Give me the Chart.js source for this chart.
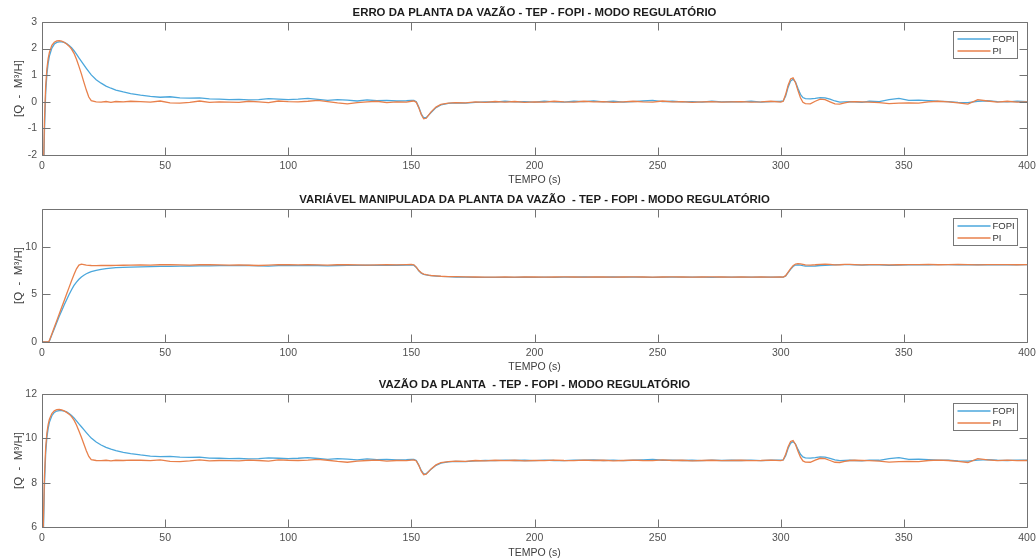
<!DOCTYPE html>
<html>
<head>
<meta charset="utf-8">
<script src="https://cdn.jsdelivr.net/npm/chart.js@4.4.1/dist/chart.umd.min.js"></script>
<style>
  html, body { margin: 0; padding: 0; background: #fff; }
  body { width: 1036px; height: 560px; position: relative; overflow: hidden; }
  canvas { position: absolute; left: 0; }
</style>
</head>
<body>
<canvas id="painelErro" width="1036" height="187" style="top:0px;width:1036px;height:187px"></canvas>
<canvas id="painelMV" width="1036" height="187" style="top:187px;width:1036px;height:187px"></canvas>
<canvas id="painelVazao" width="1036" height="188" style="top:372px;width:1036px;height:188px"></canvas>
<script>
// Instantes de amostragem (s)
const tempo = [
  0, 0.5, 1, 1.5, 2, 2.5, 3, 4, 5, 6,
  7, 8, 9, 10, 11, 12, 13, 14, 15, 16,
  17, 18, 19, 20, 22, 24, 26, 28, 30, 33,
  36, 40, 44, 48, 52, 56, 60, 64, 68, 72,
  76, 80, 84, 88, 92, 96, 100, 104, 108, 112,
  116, 120, 124, 128, 132, 136, 140, 144, 148, 150,
  151, 152, 153, 154, 155, 156, 157, 158, 160, 162,
  165, 168, 172, 176, 180, 184, 188, 192, 196, 200,
  204, 208, 212, 216, 220, 224, 228, 232, 236, 240,
  244, 248, 252, 256, 260, 264, 268, 272, 276, 280,
  284, 288, 292, 296, 300, 301, 302, 303, 304, 305,
  306, 307, 308, 309, 310, 312, 314, 316, 318, 320,
  322, 324, 326, 328, 330, 333, 336, 340, 344, 348,
  352, 356, 360, 364, 368, 372, 376, 380, 384, 388,
  392, 396, 400
];

// Erro da planta
const erroFOPI = [
  -9, -3.6, -1.1, 0.35, 1.05, 1.45, 1.72, 2.02, 2.17, 2.23,
  2.25, 2.25, 2.23, 2.19, 2.12, 2.03, 1.92, 1.79, 1.65, 1.52,
  1.39, 1.26, 1.13, 1.01, 0.83, 0.70, 0.59, 0.51, 0.44, 0.37,
  0.31, 0.25, 0.20, 0.17, 0.19, 0.15, 0.14, 0.15, 0.11, 0.10,
  0.08, 0.09, 0.07, 0.08, 0.12, 0.10, 0.08, 0.10, 0.13, 0.09,
  0.05, 0.08, 0.06, 0.03, 0.07, 0.04, 0.05, 0.03, 0.04, 0.05,
  0.05, 0.00, -0.20, -0.45, -0.60, -0.60, -0.50, -0.40, -0.22, -0.12,
  -0.06, -0.04, -0.05, -0.02, 0.00, -0.01, 0.02, 0.00, 0.01, -0.01,
  0.02, 0.00, -0.01, 0.02, 0.01, 0.03, 0.00, 0.02, -0.01, 0.01,
  0.03, 0.05, 0.01, 0.02, 0.00, 0.01, -0.01, 0.02, 0.00, 0.01,
  0.00, 0.02, -0.01, 0.01, 0.02, 0.03, 0.22, 0.55, 0.78, 0.85,
  0.74, 0.50, 0.28, 0.16, 0.12, 0.11, 0.13, 0.16, 0.15, 0.10,
  0.03, -0.01, 0.00, 0.01, 0.00, -0.02, 0.02, 0.01, 0.08, 0.13,
  0.05, 0.06, 0.04, 0.02, 0.01, -0.02, -0.03, 0.02, 0.04, 0.01,
  0.00, 0.02, 0.01
];
const erroPI = [
  -9, -3.1, -0.7, 0.6, 1.25, 1.62, 1.86, 2.12, 2.24, 2.29,
  2.30, 2.28, 2.24, 2.17, 2.09, 1.98, 1.82, 1.60, 1.33, 1.05,
  0.74, 0.44, 0.18, 0.04, 0.00, -0.01, 0.01, -0.02, 0.01, 0.00,
  0.02, 0.01, -0.01, 0.03, -0.04, -0.05, -0.02, 0.03, -0.02, 0.00,
  -0.01, -0.02, 0.02, 0.00, -0.03, 0.03, 0.01, 0.00, 0.02, 0.05,
  0.01, -0.04, -0.08, -0.03, 0.00, 0.02, -0.03, 0.00, -0.01, 0.02,
  0.03, -0.02, -0.22, -0.48, -0.64, -0.62, -0.50, -0.38, -0.20, -0.10,
  -0.05, -0.03, -0.04, 0.00, -0.02, 0.01, -0.01, 0.01, -0.02, 0.00,
  -0.01, 0.02, 0.00, -0.01, 0.02, 0.00, 0.01, -0.02, 0.00, 0.02,
  0.00, -0.01, 0.03, 0.00, 0.01, -0.02, 0.00, 0.01, -0.01, 0.00,
  0.01, -0.01, 0.00, 0.02, -0.01, 0.02, 0.28, 0.62, 0.86, 0.90,
  0.72, 0.42, 0.15, -0.02, -0.07, -0.08, 0.02, 0.10, 0.08, 0.00,
  -0.08, -0.09, -0.04, 0.00, 0.01, 0.00, -0.01, -0.03, -0.07, -0.05,
  -0.04, -0.05, 0.00, 0.02, 0.00, -0.04, -0.09, 0.08, 0.03, -0.01,
  0.02, -0.01, 0.00
];

// Variável manipulada
const mvFOPI = [
  0, 0, 0, 0, 0, 0, 0.10, 0.75, 1.40, 2.05,
  2.70, 3.30, 3.90, 4.45, 5.00, 5.50, 5.95, 6.30, 6.60, 6.85,
  7.03, 7.18, 7.30, 7.40, 7.55, 7.65, 7.73, 7.78, 7.82, 7.86,
  7.88, 7.91, 7.93, 7.95, 7.96, 7.98, 8.00, 8.01, 8.02, 8.03,
  8.03, 8.04, 8.05, 8.02, 7.98, 8.03, 8.05, 8.04, 8.06, 8.05,
  8.02, 8.05, 8.07, 8.06, 8.08, 8.06, 8.07, 8.08, 8.10, 8.12,
  8.08, 7.85, 7.50, 7.25, 7.12, 7.06, 7.02, 6.98, 6.94, 6.90,
  6.87, 6.84, 6.82, 6.80, 6.80, 6.80, 6.81, 6.80, 6.82, 6.81,
  6.82, 6.81, 6.83, 6.82, 6.84, 6.83, 6.82, 6.84, 6.83, 6.82,
  6.83, 6.81, 6.82, 6.83, 6.82, 6.83, 6.82, 6.81, 6.82, 6.83,
  6.82, 6.83, 6.82, 6.83, 6.82, 6.82, 6.95, 7.30, 7.65, 7.95,
  8.10, 8.12, 8.08, 8.03, 8.00, 7.98, 8.00, 8.05, 8.08, 8.10,
  8.12, 8.14, 8.15, 8.14, 8.12, 8.10, 8.13, 8.12, 8.06, 8.09,
  8.12, 8.13, 8.12, 8.14, 8.15, 8.12, 8.11, 8.14, 8.13, 8.12,
  8.13, 8.12, 8.14
];
const mvPI = [
  0, 0, 0, 0, 0, 0, 0.15, 0.85, 1.55, 2.25,
  2.95, 3.65, 4.35, 5.05, 5.75, 6.45, 7.10, 7.70, 8.10, 8.20,
  8.15, 8.10, 8.07, 8.05, 8.04, 8.05, 8.06, 8.05, 8.07, 8.08,
  8.10, 8.12, 8.10, 8.13, 8.15, 8.12, 8.10, 8.13, 8.14, 8.12,
  8.10, 8.12, 8.08, 8.05, 8.10, 8.14, 8.13, 8.12, 8.14, 8.12,
  8.10, 8.13, 8.14, 8.12, 8.10, 8.12, 8.13, 8.11, 8.14, 8.16,
  8.12, 7.88, 7.52, 7.28, 7.15, 7.08, 7.03, 7.00, 6.96, 6.92,
  6.89, 6.87, 6.85, 6.84, 6.83, 6.83, 6.84, 6.83, 6.84, 6.84,
  6.83, 6.84, 6.85, 6.84, 6.83, 6.84, 6.85, 6.83, 6.84, 6.85,
  6.84, 6.83, 6.84, 6.85, 6.84, 6.83, 6.84, 6.85, 6.84, 6.83,
  6.84, 6.83, 6.84, 6.83, 6.84, 6.83, 6.98, 7.35, 7.72, 8.02,
  8.20, 8.25, 8.22, 8.18, 8.12, 8.10, 8.13, 8.18, 8.20, 8.16,
  8.12, 8.13, 8.16, 8.18, 8.15, 8.12, 8.14, 8.15, 8.12, 8.13,
  8.15, 8.14, 8.16, 8.13, 8.15, 8.17, 8.14, 8.12, 8.15, 8.14,
  8.15, 8.13, 8.15
];

// Vazão da planta
const vazaoFOPI = [
  0, 5.40, 7.90, 9.35, 10.05, 10.45, 10.72, 11.02, 11.17, 11.23,
  11.25, 11.25, 11.23, 11.19, 11.12, 11.03, 10.92, 10.79, 10.65, 10.52,
  10.39, 10.26, 10.13, 10.01, 9.83, 9.70, 9.59, 9.51, 9.44, 9.37,
  9.31, 9.25, 9.20, 9.17, 9.19, 9.15, 9.14, 9.15, 9.11, 9.10,
  9.08, 9.09, 9.07, 9.08, 9.12, 9.10, 9.08, 9.10, 9.13, 9.09,
  9.05, 9.08, 9.06, 9.03, 9.07, 9.04, 9.05, 9.03, 9.04, 9.05,
  9.05, 9.00, 8.80, 8.55, 8.40, 8.40, 8.50, 8.60, 8.78, 8.88,
  8.94, 8.96, 8.95, 8.98, 9.00, 8.99, 9.02, 9.00, 9.01, 8.99,
  9.02, 9.00, 8.99, 9.02, 9.01, 9.03, 9.00, 9.02, 8.99, 9.01,
  9.03, 9.05, 9.01, 9.02, 9.00, 9.01, 8.99, 9.02, 9.00, 9.01,
  9.00, 9.02, 8.99, 9.01, 9.02, 9.03, 9.22, 9.55, 9.78, 9.85,
  9.74, 9.50, 9.28, 9.16, 9.12, 9.11, 9.13, 9.16, 9.15, 9.10,
  9.03, 8.99, 9.00, 9.01, 9.00, 8.98, 9.02, 9.01, 9.08, 9.13,
  9.05, 9.06, 9.04, 9.02, 9.01, 8.98, 8.97, 9.02, 9.04, 9.01,
  9.00, 9.02, 9.01
];
const vazaoPI = [
  0, 5.90, 8.30, 9.60, 10.25, 10.62, 10.86, 11.12, 11.24, 11.29,
  11.30, 11.28, 11.24, 11.17, 11.09, 10.98, 10.82, 10.60, 10.33, 10.05,
  9.74, 9.44, 9.18, 9.04, 9.00, 8.99, 9.01, 8.98, 9.01, 9.00,
  9.02, 9.01, 8.99, 9.03, 8.96, 8.95, 8.98, 9.03, 8.98, 9.00,
  8.99, 8.98, 9.02, 9.00, 8.97, 9.03, 9.01, 9.00, 9.02, 9.05,
  9.01, 8.96, 8.92, 8.97, 9.00, 9.02, 8.97, 9.00, 8.99, 9.02,
  9.03, 8.98, 8.78, 8.52, 8.36, 8.38, 8.50, 8.62, 8.80, 8.90,
  8.95, 8.97, 8.96, 9.00, 8.98, 9.01, 8.99, 9.01, 8.98, 9.00,
  8.99, 9.02, 9.00, 8.99, 9.02, 9.00, 9.01, 8.98, 9.00, 9.02,
  9.00, 8.99, 9.03, 9.00, 9.01, 8.98, 9.00, 9.01, 8.99, 9.00,
  9.01, 8.99, 9.00, 9.02, 8.99, 9.02, 9.28, 9.62, 9.86, 9.90,
  9.72, 9.42, 9.15, 8.98, 8.93, 8.92, 9.02, 9.10, 9.08, 9.00,
  8.92, 8.91, 8.96, 9.00, 9.01, 9.00, 8.99, 8.97, 8.93, 8.95,
  8.96, 8.95, 9.00, 9.02, 9.00, 8.96, 8.91, 9.08, 9.03, 8.99,
  9.02, 8.99, 9.00
];

// Marcas dos eixos
const ticksTempo = [0, 50, 100, 150, 200, 250, 300, 350, 400];
const ticksErro = [-2, -1, 0, 1, 2, 3];
const ticksMV = [0, 5, 10];
const ticksVazao = [6, 8, 10, 12];

const rotulosSeries = ['FOPI', 'PI'];
const rotuloX = 'TEMPO (s)';
const rotuloY = '[Q  -  M³/H]';

const COR_FOPI = '#4ba7dc';
const COR_PI = '#e8804b';
const COR_EIXO = '#737373';
const FONTE = '"Liberation Sans", Arial, Helvetica, sans-serif';

// Moldura em caixa com marcas internas (estilo MATLAB) e legenda no canto superior direito
const moldura = {
  id: 'moldura',
  afterDatasetsDraw(chart) {
    const { ctx, chartArea: a, scales: { x, y } } = chart;
    const L = Math.round(a.left) + 0.5, R = Math.round(a.right) + 0.5;
    const T = Math.round(a.top) + 0.5, B = Math.round(a.bottom) + 0.5;
    const tam = 8;
    ctx.save();
    ctx.strokeStyle = COR_EIXO;
    ctx.lineWidth = 1;
    ctx.beginPath();
    ctx.rect(L, T, R - L, B - T);
    x.ticks.forEach(t => {
      const px = Math.round(x.getPixelForValue(t.value)) + 0.5;
      ctx.moveTo(px, B); ctx.lineTo(px, B - tam);
      ctx.moveTo(px, T); ctx.lineTo(px, T + tam);
    });
    y.ticks.forEach(t => {
      const py = Math.round(y.getPixelForValue(t.value)) + 0.5;
      ctx.moveTo(L, py); ctx.lineTo(L + tam, py);
      ctx.moveTo(R, py); ctx.lineTo(R - tam, py);
    });
    ctx.stroke();

    // legenda
    const w = 64, h = 27;
    const bx = Math.round(a.right) - 10 - w + 0.5;
    const by = Math.round(a.top) + 9 + 0.5;
    ctx.fillStyle = '#fff';
    ctx.fillRect(bx, by, w, h);
    ctx.strokeStyle = '#777';
    ctx.lineWidth = 1;
    ctx.strokeRect(bx, by, w, h);
    ctx.font = '9.5px ' + FONTE;
    ctx.textBaseline = 'middle';
    ctx.textAlign = 'left';
    chart.data.datasets.forEach((ds, i) => {
      const ly = Math.round(by + 7 + i * 12.7);
      ctx.strokeStyle = ds.borderColor;
      ctx.lineWidth = 1.6;
      ctx.beginPath();
      ctx.moveTo(bx + 4, ly); ctx.lineTo(bx + 37, ly);
      ctx.stroke();
      ctx.fillStyle = '#333';
      ctx.fillText(ds.label, bx + 39, ly + 0.5);
    });
    ctx.restore();
  }
};

function pontos(serie) {
  return tempo.map((t, i) => ({ x: t, y: serie[i] }));
}

function painel(id, H, titulo, serieFOPI, seriePI, yMin, yMax, yTicks) {
  return new Chart(document.getElementById(id), {
    type: 'line',
    data: {
      datasets: [
        { label: rotulosSeries[0], data: pontos(serieFOPI), borderColor: COR_FOPI, borderWidth: 1.3,
          pointRadius: 0, tension: 0, order: 1, clip: 0, fill: false },
        { label: rotulosSeries[1], data: pontos(seriePI), borderColor: COR_PI, borderWidth: 1.3,
          pointRadius: 0, tension: 0, order: 0, clip: 0, fill: false }
      ]
    },
    options: {
      responsive: false,
      animation: false,
      events: [],
      devicePixelRatio: 1,
      layout: { padding: { left: 0, right: 0, top: 0, bottom: 0 } },
      plugins: {
        legend: { display: false },
        tooltip: { enabled: false },
        title: {
          display: true, text: titulo, fullSize: false, color: '#1c1c1c',
          font: { family: FONTE, size: 11.4, weight: 'bold', lineHeight: 1.2 },
          padding: { top: 6.3, bottom: 2 }
        }
      },
      scales: {
        x: {
          type: 'linear', min: 0, max: 400,
          afterBuildTicks: s => { s.ticks = ticksTempo.map(v => ({ value: v })); },
          afterFit: s => { s.height = H - 155; s.paddingLeft = 0; s.paddingRight = 9; },
          grid: { display: false, drawTicks: false },
          border: { display: false },
          ticks: { padding: 5, color: '#505050', maxRotation: 0, autoSkip: false,
                   font: { family: FONTE, size: 10.5 } },
          title: { display: true, text: rotuloX, color: '#404040',
                   font: { family: FONTE, size: 10.5, lineHeight: 1.2 },
                   padding: { top: 0, bottom: 1 } }
        },
        y: {
          type: 'linear', min: yMin, max: yMax,
          afterBuildTicks: s => { s.ticks = yTicks.map(v => ({ value: v })); },
          afterFit: s => { s.width = 42; s.paddingTop = 0; s.paddingBottom = 0; },
          grid: { display: false, drawTicks: false },
          border: { display: false },
          ticks: { padding: 5, color: '#505050', autoSkip: false,
                   font: { family: FONTE, size: 10.5 } },
          title: { display: true, text: rotuloY, color: '#404040',
                   font: { family: FONTE, size: 11.5, lineHeight: 1.2 },
                   padding: { top: 11.8, bottom: 0 } }
        }
      }
    },
    plugins: [moldura]
  });
}

painel('painelErro', 187, 'ERRO DA PLANTA DA VAZÃO - TEP - FOPI - MODO REGULATÓRIO',
       erroFOPI, erroPI, -2, 3, ticksErro);
painel('painelMV', 187, 'VARIÁVEL MANIPULADA DA PLANTA DA VAZÃO  - TEP - FOPI - MODO REGULATÓRIO',
       mvFOPI, mvPI, 0, 14, ticksMV);
painel('painelVazao', 188, 'VAZÃO DA PLANTA  - TEP - FOPI - MODO REGULATÓRIO',
       vazaoFOPI, vazaoPI, 6, 12, ticksVazao);
</script>
</body>
</html>
